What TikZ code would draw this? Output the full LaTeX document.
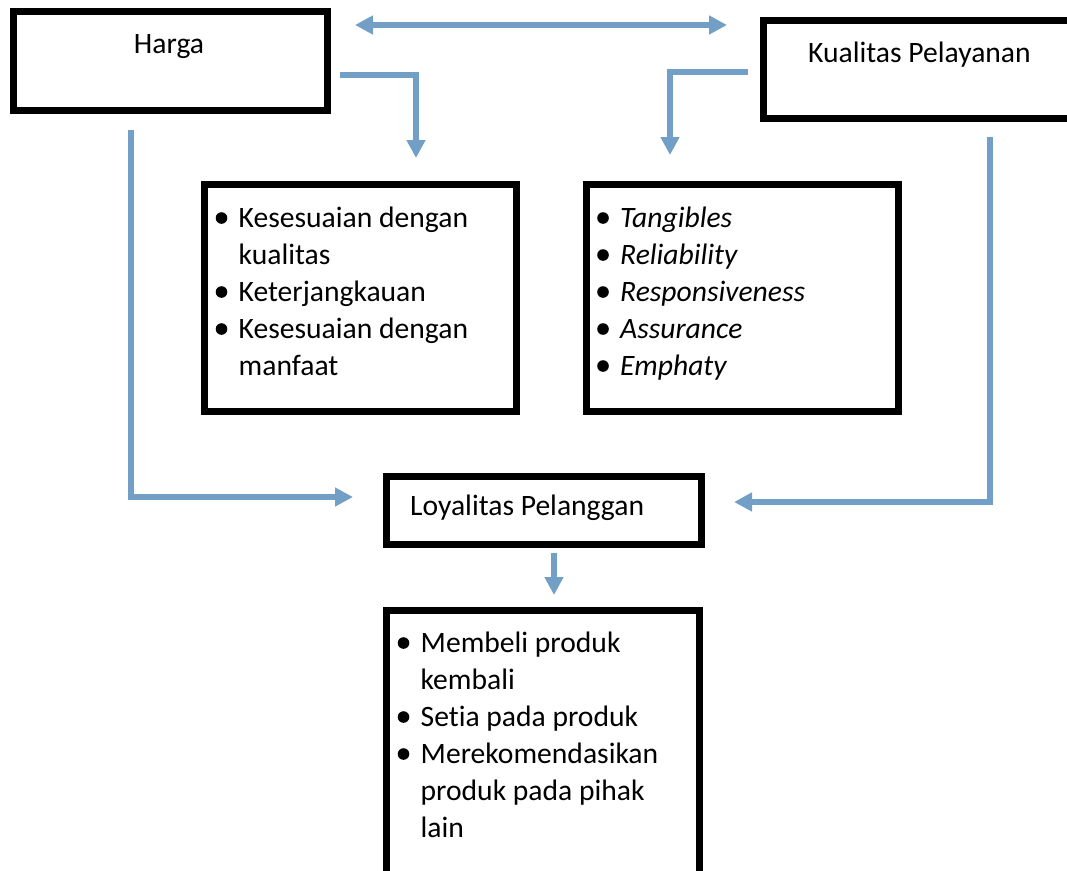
\documentclass[tikz,border=0pt]{standalone}
\usepackage{fontspec}
\setmainfont{Carlito}[Ligatures={NoCommon}]
\usetikzlibrary{arrows.meta}
\definecolor{arrowblue}{RGB}{114,159,197}
\newcommand{\bi}{\makebox[23pt][l]{\tikz[baseline=0pt]\fill (5.8pt,9pt) circle[radius=5.8pt];}}
\newcommand{\bsp}{\hspace*{23pt}}
\begin{document}
\begin{tikzpicture}[x=1pt,y=-1pt,
  box/.style={draw=black,line width=7pt,rectangle,inner sep=0pt,fill=white},
  lbl/.style={inner sep=0pt,font=\fontsize{29.6}{37}\selectfont},
  conn/.style={draw=arrowblue,line width=5.5pt,line join=miter,line cap=butt},
  tip/.style={-{Triangle[length=18pt,width=18pt]}}
]
\useasboundingbox (0,0) rectangle (1067,870);
% boxes
\node[box,minimum width=314pt,minimum height=99pt] (harga) at (170,60.5) {};
\node[box,minimum width=314pt,minimum height=98.5pt] (kp) at (920.5,69.25) {};
\node[box,minimum width=312pt,minimum height=226.5pt] (hind) at (360,297.75) {};
\node[box,minimum width=312.5pt,minimum height=226.5pt] (kind) at (742.25,297.75) {};
\node[box,minimum width=315pt,minimum height=68pt] (loyal) at (544,510.5) {};
\node[box,minimum width=313.5pt,minimum height=270pt] (lind) at (542.75,745.5) {};
% texts
\node[lbl,anchor=base] (tharga) at (169,53) {Harga};
\node[lbl,anchor=base west] (tkp) at (808,62) {Kualitas Pelayanan};
\node[lbl,anchor=base west] (tloyal) at (410,515) {Loyalitas Pelanggan};
\node[lbl,anchor=base west] (thind) at (215.5,227) {\begin{tabular}[t]{@{}l@{}}
\bi Kesesuaian dengan\\ \bsp kualitas\\ \bi Keterjangkauan\\ \bi Kesesuaian dengan\\ \bsp manfaat
\end{tabular}};
\node[lbl,anchor=base west] (tkind) at (597,227) {\begin{tabular}[t]{@{}l@{}}
\bi\textit{Tangibles}\\ \bi\textit{Reliability}\\ \bi\textit{Responsiveness}\\ \bi\textit{Assurance}\\ \bi\textit{Emphaty}
\end{tabular}};
\node[lbl,anchor=base west] (tlind) at (397.5,652) {\begin{tabular}[t]{@{}l@{}}
\bi Membeli produk\\ \bsp kembali\\ \bi Setia pada produk\\ \bi Merekomendasikan\\ \bsp produk pada pihak\\ \bsp lain
\end{tabular}};
% connector end points
\coordinate (dL) at (355,25);
\coordinate (dR) at (727,25);
\coordinate (h1) at (340,75);
\coordinate (h2) at (416,158);
\coordinate (k1) at (748,72);
\coordinate (k2) at (670,155);
\coordinate (hl1) at (131,130);
\coordinate (hl2) at (353,497);
\coordinate (kl1) at (990,137);
\coordinate (kl2) at (734,502);
\coordinate (l1) at (554,553);
\coordinate (l2) at (554,595);
% connectors
\draw[conn,{Triangle[length=18pt,width=18pt]}-{Triangle[length=18pt,width=18pt]}] (dL) -- (dR);
\draw[conn,tip] (h1) -| (h2);
\draw[conn,tip] (k1) -| (k2);
\draw[conn,tip] (hl1) |- (hl2);
\draw[conn,tip] (kl1) |- (kl2);
\draw[conn,tip] (l1) -- (l2);
\end{tikzpicture}
\end{document}
